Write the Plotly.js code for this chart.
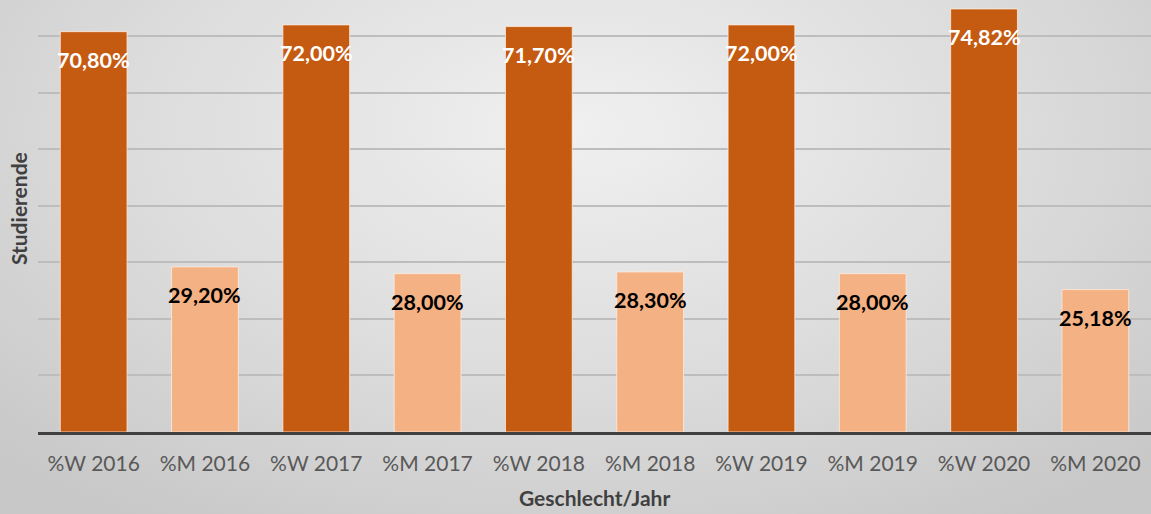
<!DOCTYPE html>
<html>
<head>
<meta charset="utf-8">
<script src="https://cdn.plot.ly/plotly-3.0.1.min.js"></script>
<style>
html,body{margin:0;padding:0;}
body{width:1151px;height:514px;background:radial-gradient(ellipse 70% 90% at 50% 25%, #f0f0f0 0%, #dcdcdc 55%, #c8c8c8 100%);}
#chart{width:1151px;height:514px;}
</style>
</head>
<body>
<div id="chart"></div>
<script>
const categories = ["%W 2016","%M 2016","%W 2017","%M 2017","%W 2018","%M 2018","%W 2019","%M 2019","%W 2020","%M 2020"];
const values = [70.80, 29.20, 72.00, 28.00, 71.70, 28.30, 72.00, 28.00, 74.82, 25.18];
const labels = ["70,80%","29,20%","72,00%","28,00%","71,70%","28,30%","72,00%","28,00%","74,82%","25,18%"];
const xTitle = "Geschlecht/Jahr";
const yTitle = "Studierende";

const colW = "#C55A11", colM = "#F4B183";
const colors = categories.map(c => c.startsWith("%W") ? colW : colM);
const textColors = categories.map(c => c.startsWith("%W") ? "#ffffff" : "#000000");
const font = "Lato, 'Noto Sans', sans-serif";

const trace = {
  type: "bar",
  x: categories,
  y: values,
  marker: {color: colors, line: {color: "rgba(255,235,220,0.8)", width: 1}},
  width: 0.6,
  hoverinfo: "skip"
};

const annotations = categories.map((c, i) => ({
  x: c, y: values[i], xref: "x", yref: "y",
  text: "<b>" + labels[i] + "</b>",
  showarrow: false, yanchor: "middle", yshift: -28,
  font: {family: font, size: 21.5, color: textColors[i]}
}));
annotations.push({
  xref: "paper", yref: "paper", x: 0.5, y: -65/432, yanchor: "middle", xanchor: "center",
  text: "<b>" + xTitle + "</b>", showarrow: false,
  font: {family: font, size: 21, color: "#404040"}
});
annotations.push({
  xref: "paper", yref: "paper", x: -20/1113, y: 0.516, xanchor: "center", yanchor: "middle",
  text: "<b>" + yTitle + "</b>", showarrow: false, textangle: -90,
  font: {family: font, size: 21, color: "#404040"}
});

const layout = {
  width: 1151, height: 514,
  margin: {l: 38, r: 0, t: 0, b: 82},
  paper_bgcolor: "rgba(0,0,0,0)",
  plot_bgcolor: "rgba(0,0,0,0)",
  showlegend: false,
  bargap: 0.4,
  xaxis: {
    type: "category",
    showline: true, linecolor: "#404040", linewidth: 3,
    showgrid: false, ticks: "", ticklabelstandoff: 11,
    tickfont: {family: font, size: 21, color: "#595959"},
    fixedrange: true
  },
  yaxis: {
    range: [0, 76.4], dtick: 10, showticklabels: false,
    showgrid: true, gridcolor: "#bdbdbd", gridwidth: 2,
    zeroline: false, showline: false, fixedrange: true
  },
  annotations: annotations
};

Plotly.newPlot("chart", [trace], layout, {displayModeBar: false, staticPlot: true});
</script>
</body>
</html>
